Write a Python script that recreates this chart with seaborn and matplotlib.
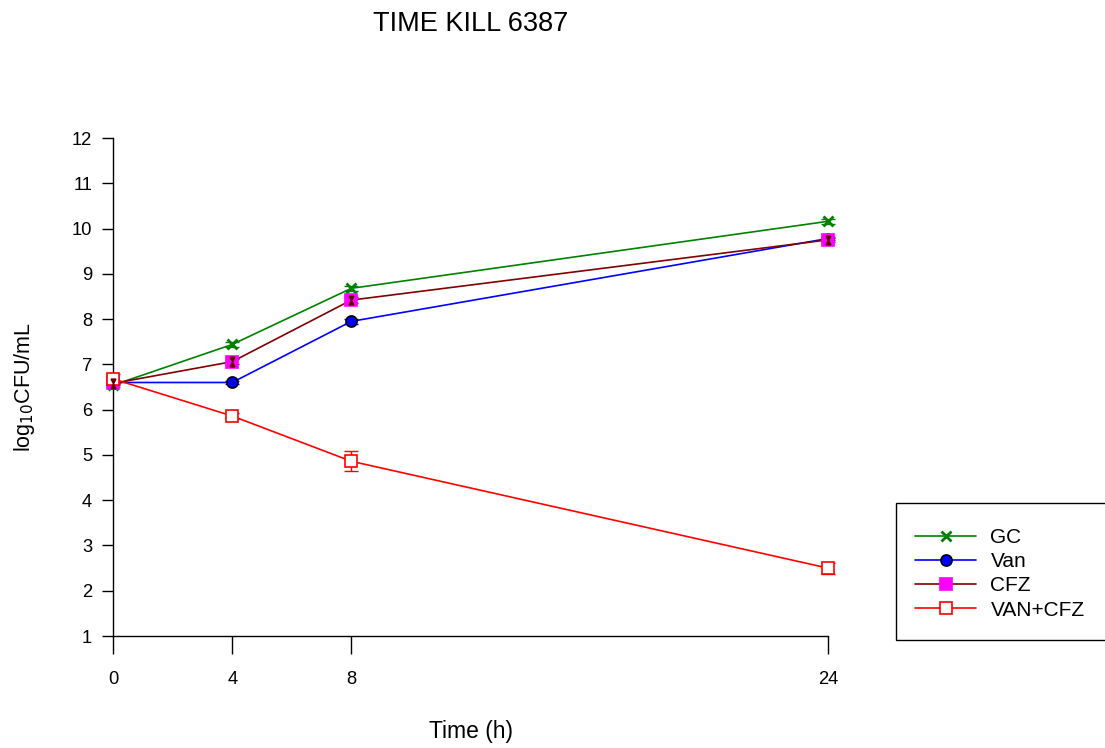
import matplotlib
matplotlib.use("Agg")
import matplotlib.pyplot as plt
from matplotlib.patches import Rectangle
import seaborn as sns
import pandas as pd
import numpy as np

sns.set_theme(style="white")
plt.rcParams['font.family'] = ['Liberation Sans', 'DejaVu Sans']
plt.rcParams['text.color'] = 'black'
plt.rcParams['axes.labelcolor'] = 'black'

time = [0, 4, 8, 24]
series = ["GC", "Van", "CFZ", "VAN+CFZ"]
gc = [6.54, 7.44, 8.68, 10.16]
van = [6.60, 6.60, 7.95, 9.78]
cfz = [6.58, 7.06, 8.42, 9.75]
vancfz = [6.68, 5.86, 4.86, 2.50]
gc_err = [0.05, 0.05, 0.05, 0.05]
van_err = [0.03, 0.04, 0.05, 0.04]
cfz_err = [0.04, 0.05, 0.06, 0.04]
vancfz_err = [0.10, 0.07, 0.22, 0.12]
xticks = [0, 4, 8, 24]
yticks = list(range(1, 13))

values = [gc, van, cfz, vancfz]
errs = [gc_err, van_err, cfz_err, vancfz_err]
colors = ["#008000", "#0000ff", "#800000", "#ff0000"]
markers = ["x", "o", "s", "s"]
mfc = ["#00a000", "#0000ff", "#ff00ff", "white"]
mec = ["#008000", "black", "#ff00ff", "#ff0000"]
msz = [7, 8, 8, 9]

df = pd.DataFrame({
    "time": time * 4,
    "value": gc + van + cfz + vancfz,
    "series": sum([[s] * 4 for s in series], []),
})

fig = plt.figure(figsize=(11.05, 7.48), dpi=100)
ax = fig.add_axes([0.1023, 0.1497, 0.6470, 0.6658])

for i, s in enumerate(series):
    sub = df[df.series == s]
    eb = ax.errorbar(sub.time, sub.value, yerr=errs[i], fmt="none", ecolor=colors[i],
                     elinewidth=1, capsize=5, capthick=1, zorder=2)
    for art in eb.get_children():
        art.set_clip_on(False)
    sns.lineplot(data=sub, x="time", y="value", ax=ax, color=colors[i], lw=1.2,
                 marker=markers[i], markersize=msz[i], markerfacecolor=mfc[i],
                 markeredgecolor=mec[i], markeredgewidth=2 if markers[i] == "x" else 1.2,
                 label=s, zorder=3 + i, clip_on=False)
    if s == "CFZ":
        ax.plot(sub.time, sub.value + 0.05, ls="none", marker="v", ms=3.5, color="#600000",
                zorder=7, clip_on=False)
        ax.plot(sub.time, sub.value - 0.05, ls="none", marker="^", ms=3.5, color="#600000",
                zorder=7, clip_on=False)

ax.set_xlim(0, 24)
ax.set_ylim(1, 12)
ax.set_xticks(xticks)
ax.set_yticks(yticks)
ax.tick_params(axis="both", direction="out", width=1, colors="black",
               labelsize=13.2, bottom=True, left=True)
ax.tick_params(axis="x", length=13, pad=12)
ax.tick_params(axis="y", length=8, pad=7)
for sp in ["top", "right"]:
    ax.spines[sp].set_visible(False)
for sp in ["left", "bottom"]:
    ax.spines[sp].set_color("black")
    ax.spines[sp].set_linewidth(1)
ax.set_xlabel("Time (h)", fontsize=16.5)
ax.set_ylabel(r"log$_{10}$CFU/mL", fontsize=15.5)
ax.xaxis.set_label_coords(0.50, -0.168)
ax.yaxis.set_label_coords(-0.106, 0.5)

fig.text(0.426, 0.968, "TIME KILL 6387", ha="center", va="center", fontsize=19.5)

fig.patches.append(Rectangle((896 / 1105, 1 - 640 / 748), 0.3, 137 / 748,
                             transform=fig.transFigure, fill=False, ec="black", lw=1))

leg = ax.legend(loc="upper left", bbox_to_anchor=(915 / 1105, 1 - 528 / 748),
                bbox_transform=fig.transFigure, frameon=False, fontsize=15,
                handlelength=2.95, borderpad=0, labelspacing=0.25, handletextpad=0.67,
                borderaxespad=0)

fig.savefig("out.png", dpi=100, facecolor="white")
